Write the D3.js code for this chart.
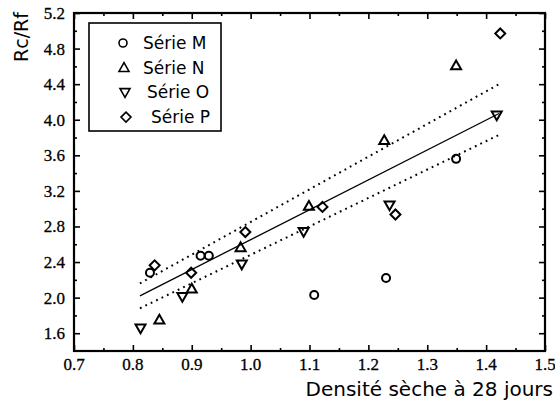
<!DOCTYPE html>
<html><head><meta charset="utf-8">
<script src="https://cdn.jsdelivr.net/npm/d3@7"></script>
<style>body{margin:0;background:#fff}</style></head>
<body><svg id="c" width="555" height="409"></svg>
<script>
const seriesNames = ["Série M", "Série N", "Série O", "Série P"];
const mX = [0.829, 0.915, 0.929, 1.108, 1.230, 1.349];
const mY = [2.28, 2.47, 2.47, 2.03, 2.22, 3.56];
const nX = [0.845, 0.900, 0.983, 1.099, 1.227, 1.349];
const nY = [1.75, 2.10, 2.565, 3.03, 3.77, 4.61];
const oX = [0.813, 0.884, 0.985, 1.090, 1.236, 1.418];
const oY = [1.655, 2.01, 2.374, 2.74, 3.04, 4.05];
const pX = [0.837, 0.899, 0.991, 1.122, 1.246, 1.424];
const pY = [2.363, 2.28, 2.737, 3.02, 2.935, 4.97];
const fitX = [0.812, 1.422];
const fitY = [2.02, 4.07];
const upperY = [2.16, 4.40];
const lowerY = [1.88, 3.83];
const xTicks = [0.7, 0.8, 0.9, 1.0, 1.1, 1.2, 1.3, 1.4, 1.5];
const xMinor = [0.75, 0.85, 0.95, 1.05, 1.15, 1.25, 1.35, 1.45];
const yTicks = [1.6, 2.0, 2.4, 2.8, 3.2, 3.6, 4.0, 4.4, 4.8, 5.2];
const yMinor = [1.8, 2.2, 2.6, 3.0, 3.4, 3.8, 4.2, 4.6, 5.0];
const xTitle = "Densité sèche à 28 jours";
const yTitle = "Rc/Rf";

const svg = d3.select("#c");
const L = 74, R = 545, T = 13, B = 351;
const x = d3.scaleLinear().domain([0.7, 1.5]).range([L, R]);
const y = d3.scaleLinear().domain([1.4, 5.2]).range([B, T]);
const sans = "'DejaVu Sans', sans-serif";
const serif = "'Liberation Serif', serif";
const fmt = d3.format(".1f");

function styleAxis(g) {
  g.select(".domain").remove();
  g.selectAll(".tick line").attr("stroke", "#000").attr("stroke-width", 1.6);
  g.selectAll(".tick text").remove();
}
function addAxis(axis, tx, ty) {
  svg.append("g").attr("transform", `translate(${tx},${ty})`).call(axis).call(styleAxis);
}
addAxis(d3.axisBottom(x).tickValues(xTicks).tickSizeInner(-6).tickSizeOuter(0), 0, B);
addAxis(d3.axisBottom(x).tickValues(xMinor).tickSizeInner(-3).tickSizeOuter(0), 0, B);
addAxis(d3.axisTop(x).tickValues(xTicks).tickSizeInner(-6).tickSizeOuter(0), 0, T);
addAxis(d3.axisTop(x).tickValues(xMinor).tickSizeInner(-3).tickSizeOuter(0), 0, T);
addAxis(d3.axisLeft(y).tickValues(yTicks).tickSizeInner(-6).tickSizeOuter(0), L, 0);
addAxis(d3.axisLeft(y).tickValues(yMinor).tickSizeInner(-3).tickSizeOuter(0), L, 0);
addAxis(d3.axisRight(y).tickValues(yTicks).tickSizeInner(-6).tickSizeOuter(0), R, 0);
addAxis(d3.axisRight(y).tickValues(yMinor).tickSizeInner(-3).tickSizeOuter(0), R, 0);

// tick labels
svg.append("g").selectAll("text").data(xTicks).join("text")
  .attr("x", d => x(d)).attr("y", B + 19).attr("text-anchor", "middle")
  .attr("font-family", serif).attr("font-size", 17).attr("fill", "#000")
  .attr("stroke", "#000").attr("stroke-width", 0.3).text(fmt);
svg.append("g").selectAll("text").data(yTicks).join("text")
  .attr("x", L - 9).attr("y", d => y(d) + 6).attr("text-anchor", "end")
  .attr("font-family", serif).attr("font-size", 17).attr("fill", "#000")
  .attr("stroke", "#000").attr("stroke-width", 0.3).text(fmt);

// frame
svg.append("rect").attr("x", L).attr("y", T).attr("width", R - L).attr("height", B - T)
  .attr("fill", "none").attr("stroke", "#000").attr("stroke-width", 2.2);

// fit lines
const line = d3.line().x(d => x(d[0])).y(d => y(d[1]));
svg.append("path").attr("d", line(fitX.map((v, i) => [v, fitY[i]])))
  .attr("fill", "none").attr("stroke", "#000").attr("stroke-width", 1.3);
[upperY, lowerY].forEach(arr => {
  svg.append("path").attr("d", line(fitX.map((v, i) => [v, arr[i]])))
    .attr("fill", "none").attr("stroke", "#000").attr("stroke-width", 2)
    .attr("stroke-dasharray", "1.8,4.2");
});

// markers
function marker(kind, cx, cy) {
  const s = 5;
  if (kind === 0) return `M${cx + 4},${cy}A4,4 0 1,1 ${cx - 4},${cy}A4,4 0 1,1 ${cx + 4},${cy}Z`;
  if (kind === 1) return `M${cx},${cy - s}L${cx + s},${cy + s * 0.75}L${cx - s},${cy + s * 0.75}Z`;
  if (kind === 2) return `M${cx},${cy + s}L${cx + s},${cy - s * 0.75}L${cx - s},${cy - s * 0.75}Z`;
  return `M${cx},${cy - s}L${cx + s},${cy}L${cx},${cy + s}L${cx - s},${cy}Z`;
}
const series = [[mX, mY], [nX, nY], [oX, oY], [pX, pY]];
series.forEach(([xs, ys], k) => {
  svg.append("g").selectAll("path").data(xs.map((v, i) => [v, ys[i]])).join("path")
    .attr("d", d => marker(k, x(d[0]), y(d[1])))
    .attr("fill", "none").attr("stroke", "#000").attr("stroke-width", 2);
});

// legend
svg.append("rect").attr("x", 89).attr("y", 23).attr("width", 132).attr("height", 108)
  .attr("fill", "#fff").attr("stroke", "#000").attr("stroke-width", 1.6);
seriesNames.forEach((name, k) => {
  const ly = 43 + k * 24.7;
  svg.append("path").attr("d", marker(k, 123 + k, ly)).attr("fill", "none").attr("stroke", "#000").attr("stroke-width", 1.6);
  svg.append("text").attr("x", 143 + (k >= 2 ? (k - 1) * 4 : 0)).attr("y", ly + 6)
    .attr("font-family", sans).attr("font-size", 17).attr("fill", "#000").text(name);
});

// titles
svg.append("text").attr("x", 553).attr("y", 396).attr("text-anchor", "end")
  .attr("font-family", sans).attr("font-size", 20).attr("fill", "#000").text(xTitle);
svg.append("text").attr("transform", "translate(28,12) rotate(-90)").attr("text-anchor", "end")
  .attr("font-family", sans).attr("font-size", 19).attr("fill", "#000").text(yTitle);
</script></body></html>
